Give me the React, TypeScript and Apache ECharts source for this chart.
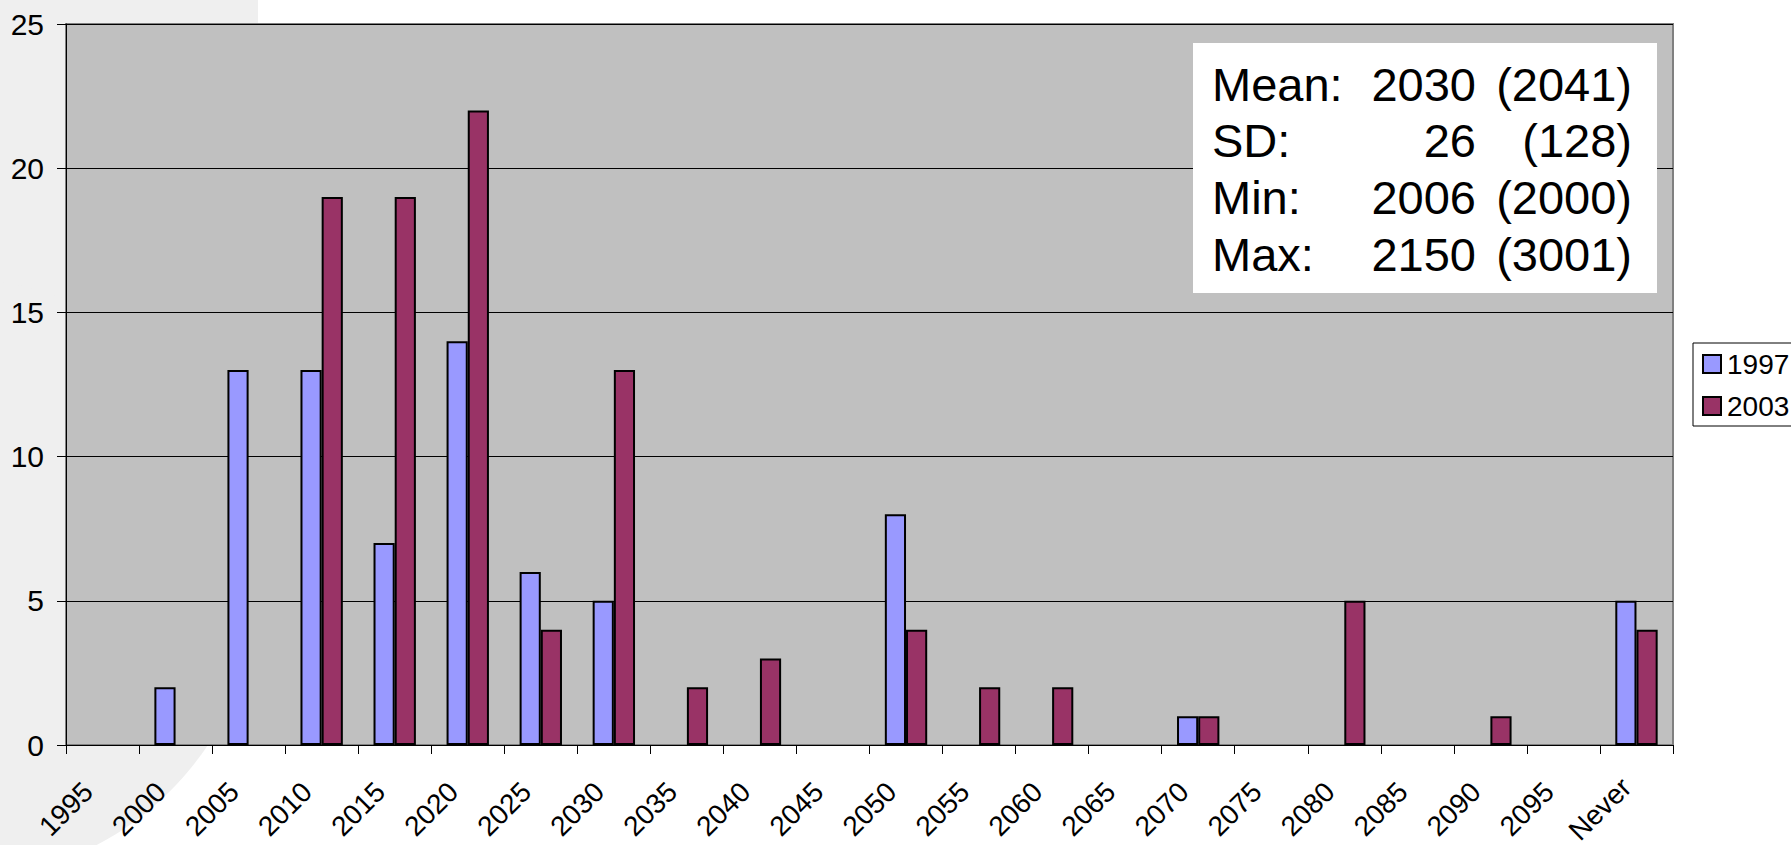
import React, { useEffect, useRef } from "react";
import * as echarts from "echarts";

// Five-year bins; each label marks the left boundary of its bin.
const categories = [
  "1995", "2000", "2005", "2010", "2015", "2020", "2025", "2030", "2035", "2040", "2045",
  "2050", "2055", "2060", "2065", "2070", "2075", "2080", "2085", "2090", "2095", "Never",
];

const values1997 = [0, 2, 13, 13, 7, 14, 6, 5, 0, 0, 0, 8, 0, 0, 0, 1, 0, 0, 0, 0, 0, 5];
const values2003 = [0, 0, 0, 19, 19, 22, 4, 13, 2, 3, 0, 4, 2, 2, 0, 1, 0, 5, 0, 1, 0, 4];

const seriesNames = ["1997", "2003"];
const seriesColors = ["#9999FF", "#993366"];

const statLabels = ["Mean:", "SD:", "Min:", "Max:"];
const stats1997 = ["2030", "26", "2006", "2150"];
const stats2003 = ["(2041)", "(128)", "(2000)", "(3001)"];

const FONT = '"Liberation Sans", Arial, Helvetica, sans-serif';

export default function App() {
  const ref = useRef<HTMLDivElement>(null);

  useEffect(() => {
    if (!ref.current) return;
    const chart = echarts.init(ref.current, undefined, { renderer: "svg" });

    const rowY = [84, 140, 197, 254];
    const statElements: any[] = [
      {
        type: "rect",
        shape: { x: 1193, y: 43, width: 464, height: 250 },
        style: { fill: "#FFFFFF" },
        z: 100,
      },
    ];
    statLabels.forEach((label, i) => {
      const common = {
        fontSize: 47,
        fontFamily: FONT,
        fill: "#000",
        verticalAlign: "middle",
        textVerticalAlign: "middle",
      };
      statElements.push(
        { type: "text", x: 1212, y: rowY[i], z: 101, style: { ...common, text: label, align: "left", textAlign: "left" } },
        { type: "text", x: 1476, y: rowY[i], z: 101, style: { ...common, text: stats1997[i], align: "right", textAlign: "right" } },
        { type: "text", x: 1632, y: rowY[i], z: 101, style: { ...common, text: stats2003[i], align: "right", textAlign: "right" } }
      );
    });

    const toBar = (arr: number[]) => arr.map((v) => (v === 0 ? null : v));

    chart.setOption({
      animation: false,
      backgroundColor: "#FFFFFF",
      textStyle: { fontFamily: FONT },
      graphic: {
        elements: [
          // slide backdrop: pale band on the left with a rounded lower edge
          {
            type: "rect",
            shape: { x: 0, y: 0, width: 258, height: 580 },
            style: { fill: "#EFEFEF" },
            z: -100,
          },
          {
            type: "circle",
            shape: { cx: -42, cy: 579, r: 300 },
            style: { fill: "#EFEFEF" },
            z: -100,
          },
          ...statElements,
        ],
      },
      legend: {
        data: seriesNames,
        orient: "vertical",
        left: 1693,
        top: 343,
        backgroundColor: "#FFFFFF",
        borderColor: "#000000",
        borderWidth: 1,
        padding: [7, 8, 6, 9],
        itemGap: 14,
        itemWidth: 18,
        itemHeight: 18,
        icon: "rect",
        textStyle: { fontSize: 28, color: "#000", fontFamily: FONT, padding: [0, 0, 0, 1] },
      },
      grid: {
        left: 66,
        right: 118,
        top: 24,
        bottom: 100,
        outerBoundsMode: "none",
        containLabel: false,
        show: true,
        backgroundColor: "#C0C0C0",
        borderColor: "#808080",
        borderWidth: 2,
      },
      xAxis: [
        {
          type: "category",
          data: categories,
          boundaryGap: true,
          axisLine: { show: true, lineStyle: { color: "#000", width: 1 } },
          axisTick: { show: true, interval: 0, length: 9, lineStyle: { color: "#000" } },
          axisLabel: { show: false },
          splitLine: { show: false },
        },
        {
          // boundary labels: one per tick, rotated and centred under it
          type: "value",
          min: 0,
          max: categories.length,
          interval: 1,
          position: "bottom",
          axisLine: { show: false },
          axisTick: { show: false },
          splitLine: { show: false },
          axisLabel: {
            show: true,
            rotate: 45,
            align: "center",
            verticalAlign: "middle",
            margin: 64,
            fontSize: 28,
            color: "#000",
            fontFamily: FONT,
            showMinLabel: true,
            showMaxLabel: true,
            formatter: (v: number) => categories[Math.round(v)] ?? "",
          },
        },
      ],
      yAxis: {
        type: "value",
        min: 0,
        max: 25,
        interval: 5,
        axisLine: { show: true, lineStyle: { color: "#000", width: 1 } },
        axisTick: { show: true, length: 9, lineStyle: { color: "#000" } },
        axisLabel: { fontSize: 30, color: "#000", margin: 22, fontFamily: FONT },
        splitLine: { show: true, lineStyle: { color: "#000", width: 1 } },
      },
      series: [
        {
          name: seriesNames[0],
          type: "bar",
          xAxisIndex: 0,
          data: toBar(values1997),
          barGap: "0%",
          barCategoryGap: "42%",
          itemStyle: { color: seriesColors[0], borderColor: "#000", borderWidth: 2 },
        },
        {
          name: seriesNames[1],
          type: "bar",
          xAxisIndex: 0,
          data: toBar(values2003),
          barGap: "0%",
          barCategoryGap: "42%",
          itemStyle: { color: seriesColors[1], borderColor: "#000", borderWidth: 2 },
        },
      ],
    });

    return () => chart.dispose();
  }, []);

  return (
    <div
      ref={ref}
      style={{ position: "fixed", left: 0, top: 0, width: 1791, height: 845 }}
    />
  );
}
